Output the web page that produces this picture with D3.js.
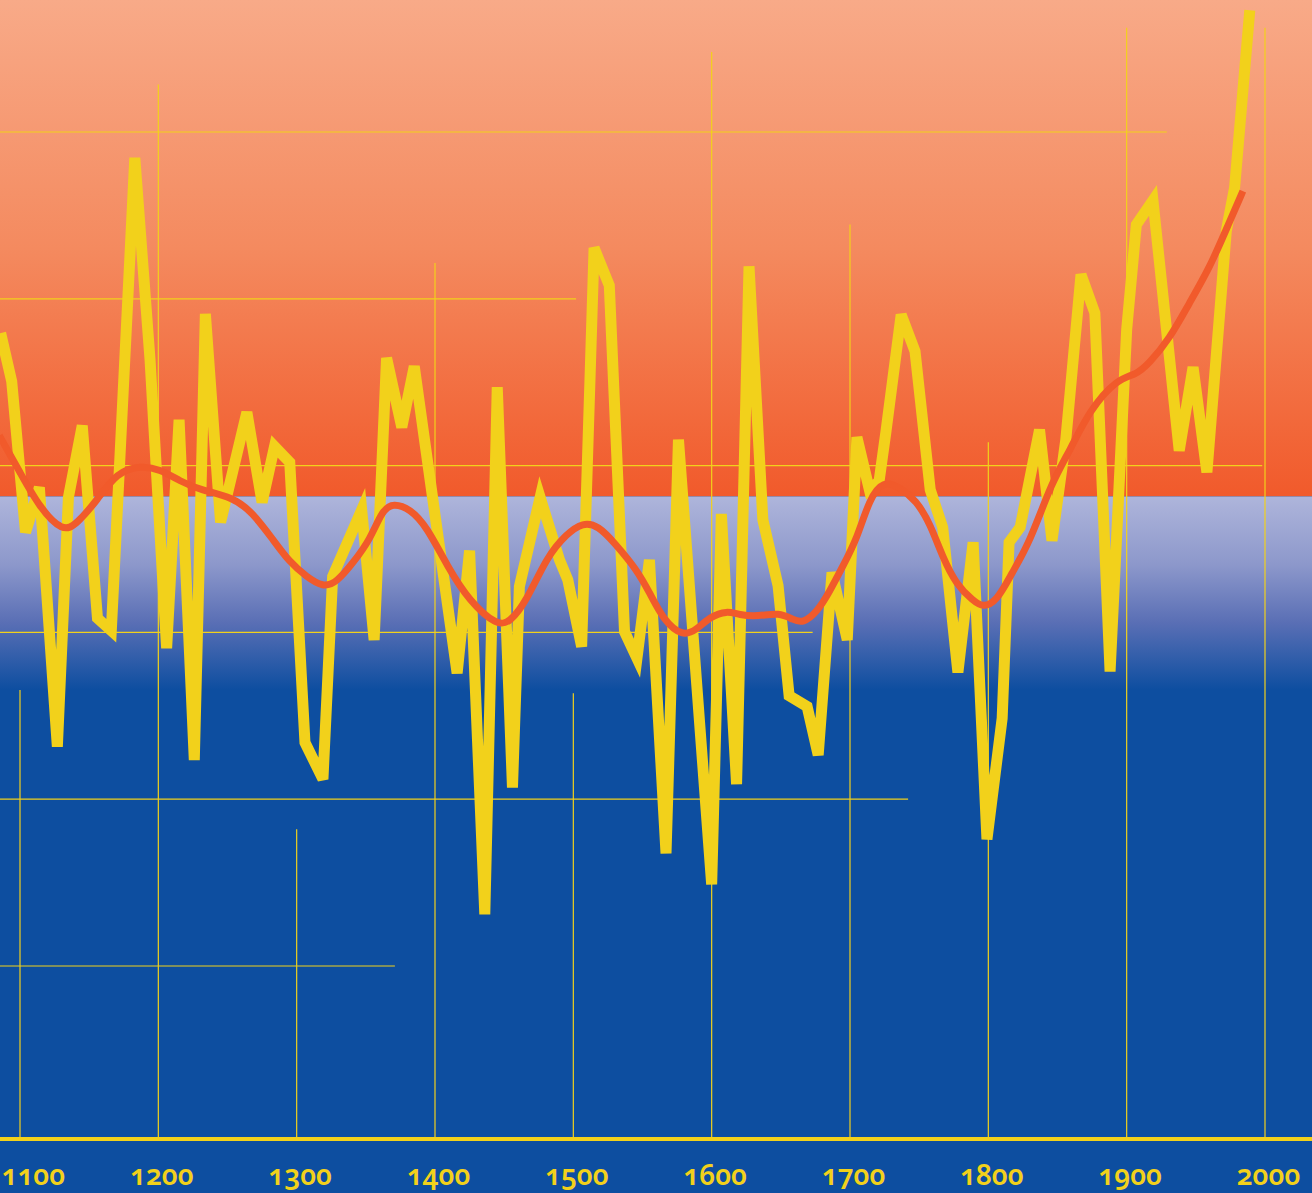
<!DOCTYPE html>
<meta charset="utf-8">
<style>
  html, body { margin: 0; padding: 0; background: #0d4ea0; }
  svg { display: block; }
  .tick text {
    font-family: "Noto Sans", Lato, sans-serif;
    font-weight: 600;
    font-variant-numeric: oldstyle-nums;
    font-feature-settings: "onum" 1;
  }
</style>
<body>
<div id="chart"></div>
<script src="https://d3js.org/d3.v7.min.js"></script>
<script>
// temperature reconstruction (irregular years, anomaly)
const years = [1086, 1094, 1104, 1114, 1127, 1135, 1145, 1156, 1166, 1183,
  1194, 1206, 1215, 1226, 1234, 1245, 1264, 1275, 1284, 1295,
  1306, 1319, 1326, 1347, 1356, 1365, 1376, 1385, 1416, 1425,
  1436, 1445, 1456, 1461, 1476, 1490, 1496, 1506, 1515, 1526,
  1537, 1546, 1555, 1567, 1576, 1600, 1607, 1618, 1627, 1637,
  1648, 1656, 1669, 1677, 1687, 1698, 1705, 1714, 1721, 1726,
  1737, 1747, 1758, 1767, 1778, 1789, 1799, 1810, 1815, 1823,
  1837, 1846, 1856, 1867, 1877, 1888, 1900, 1907, 1919, 1938,
  1948, 1958, 1972, 1978, 1989];
const temps = [0.159, 0.101, -0.080, -0.026, -0.337, -0.038, 0.048, -0.183, -0.198, 0.369,
  0.127, -0.219, 0.055, -0.353, 0.182, -0.068, 0.064, -0.044, 0.023, 0.004,
  -0.332, -0.376, -0.133, -0.053, -0.209, 0.129, 0.046, 0.119, -0.249, -0.102,
  -0.538, 0.094, -0.386, -0.145, -0.038, -0.113, -0.137, -0.217, 0.261, 0.216,
  -0.199, -0.231, -0.113, -0.465, 0.031, -0.502, -0.058, -0.382, 0.239, -0.065,
  -0.144, -0.276, -0.289, -0.347, -0.128, -0.209, 0.034, -0.029, -0.019, 0.041,
  0.181, 0.137, -0.029, -0.074, -0.248, -0.092, -0.448, -0.303, -0.092, -0.074,
  0.043, -0.090, 0.031, 0.229, 0.183, -0.247, 0.163, 0.289, 0.318, 0.018,
  0.118, -0.008, 0.281, 0.333, 0.546];

// smoothed curve
const smoothYears = [1085, 1100, 1114, 1131, 1141, 1156, 1170, 1187, 1201, 1216,
  1230, 1254, 1268, 1283, 1295, 1307, 1319, 1329, 1341, 1353,
  1362, 1370, 1382, 1394, 1409, 1425, 1445, 1454, 1466, 1481,
  1495, 1507, 1518, 1530, 1546, 1555, 1565, 1579, 1589, 1599,
  1611, 1620, 1633, 1649, 1659, 1666, 1676, 1685, 1695, 1705,
  1714, 1724, 1736, 1748, 1758, 1767, 1777, 1789, 1796, 1806,
  1817, 1830, 1846, 1859, 1873, 1893, 1907, 1916, 1931, 1945,
  1960, 1974, 1984];
const smoothTemps = [0.036, -0.008, -0.050, -0.080, -0.070, -0.041, -0.008, 0.000, -0.004, -0.019,
  -0.029, -0.038, -0.056, -0.089, -0.116, -0.133, -0.146, -0.140, -0.116, -0.089,
  -0.053, -0.045, -0.052, -0.073, -0.121, -0.163, -0.192, -0.188, -0.163, -0.109,
  -0.082, -0.068, -0.072, -0.093, -0.125, -0.152, -0.185, -0.205, -0.197, -0.181,
  -0.174, -0.179, -0.181, -0.176, -0.185, -0.189, -0.176, -0.152, -0.120, -0.088,
  -0.040, -0.018, -0.026, -0.042, -0.070, -0.110, -0.143, -0.162, -0.170, -0.163,
  -0.129, -0.092, -0.019, 0.018, 0.066, 0.104, 0.109, 0.122, 0.152, 0.194,
  0.237, 0.291, 0.329];

// grid
const centuries = [1100, 1200, 1300, 1400, 1500, 1600, 1700, 1800, 1900, 2000];
const centuryTops = [-0.269, 0.457, -0.436, 0.243, -0.273, 0.496, 0.289, 0.028, 0.525, 0.525];
const gridValues = [0.4, 0.2, 0, -0.2, -0.4, -0.6];
const gridEnds = [1929, 1502, 1998, 1673, 1742, 1371];

// background bands
const warmEdge = -0.037;
const coldSolid = -0.269;

const width = 1312, height = 1193, axisY = 1139;
const yellow = "#f2d11b", red = "#f15a2b";

const x = d3.scaleLinear().domain([1100, 2000]).range([20, 1265]);
const y = d3.scaleLinear().domain([-0.6, 0.4]).range([966, 132]);

const svg = d3.select("#chart").append("svg")
    .attr("width", width)
    .attr("height", height);

const defs = svg.append("defs");

const warm = defs.append("linearGradient")
    .attr("id", "warm")
    .attr("gradientUnits", "userSpaceOnUse")
    .attr("x1", 0).attr("x2", 0)
    .attr("y1", 0).attr("y2", y(warmEdge));
warm.append("stop").attr("offset", 0).attr("stop-color", "#f8aa88");
warm.append("stop").attr("offset", 0.5).attr("stop-color", "#f48a5f");
warm.append("stop").attr("offset", 1).attr("stop-color", "#f15a2b");

const cold = defs.append("linearGradient")
    .attr("id", "cold")
    .attr("gradientUnits", "userSpaceOnUse")
    .attr("x1", 0).attr("x2", 0)
    .attr("y1", y(warmEdge)).attr("y2", y(coldSolid));
cold.append("stop").attr("offset", 0).attr("stop-color", "#aeb5db");
cold.append("stop").attr("offset", 0.35).attr("stop-color", "#8d98cb");
cold.append("stop").attr("offset", 0.65).attr("stop-color", "#5a6fb5");
cold.append("stop").attr("offset", 1).attr("stop-color", "#0d4ea0");

svg.append("rect")
    .attr("x", 0).attr("y", 0)
    .attr("width", width).attr("height", y(warmEdge))
    .attr("fill", "url(#warm)");
svg.append("rect")
    .attr("x", 0).attr("y", y(warmEdge))
    .attr("width", width).attr("height", height - y(warmEdge))
    .attr("fill", "url(#cold)");

// staggered grid lines
svg.append("g").selectAll("line")
  .data(gridValues)
  .join("line")
    .attr("x1", 0)
    .attr("x2", (d, i) => x(gridEnds[i]))
    .attr("y1", d => y(d))
    .attr("y2", d => y(d))
    .attr("stroke", yellow)
    .attr("stroke-width", 1.2);

svg.append("g").selectAll("line")
  .data(centuries)
  .join("line")
    .attr("x1", d => x(d))
    .attr("x2", d => x(d))
    .attr("y1", (d, i) => y(centuryTops[i]))
    .attr("y2", axisY)
    .attr("stroke", yellow)
    .attr("stroke-width", 1.2);

// yearly line
const pts = years.map((d, i) => [d, temps[i]]);
svg.append("path")
    .datum(pts)
    .attr("fill", "none")
    .attr("stroke", yellow)
    .attr("stroke-width", 11)
    .attr("d", d3.line()
      .x(d => x(d[0]))
      .y(d => y(d[1])));

// smoothed line
const smooth = smoothYears.map((d, i) => [d, smoothTemps[i]]);
svg.append("path")
    .datum(smooth)
    .attr("fill", "none")
    .attr("stroke", red)
    .attr("stroke-width", 7)
    .attr("d", d3.line()
      .curve(d3.curveBasis)
      .x(d => x(d[0]))
      .y(d => y(d[1])));

// axis
svg.append("line")
    .attr("x1", 0).attr("x2", width)
    .attr("y1", axisY).attr("y2", axisY)
    .attr("stroke", yellow)
    .attr("stroke-width", 4);

const axis = svg.append("g")
    .attr("transform", "translate(0," + axisY + ")")
    .call(d3.axisBottom(x).tickValues(centuries).tickFormat(d3.format("d")).tickSize(0));
axis.select(".domain").remove();
axis.selectAll("text")
    .attr("y", 46)
    .attr("dy", 0)
    .attr("x", 3)
    .attr("fill", yellow)
    .style("font-size", "28px");

// keep the first label inside the picture
axis.selectAll(".tick").each(function(d) {
  const t = d3.select(this).select("text");
  const left = x(d) + this.querySelector("text").getBBox().x;
  if (left < 1) t.attr("x", 3 - left + 1);
});
</script>
</body>
